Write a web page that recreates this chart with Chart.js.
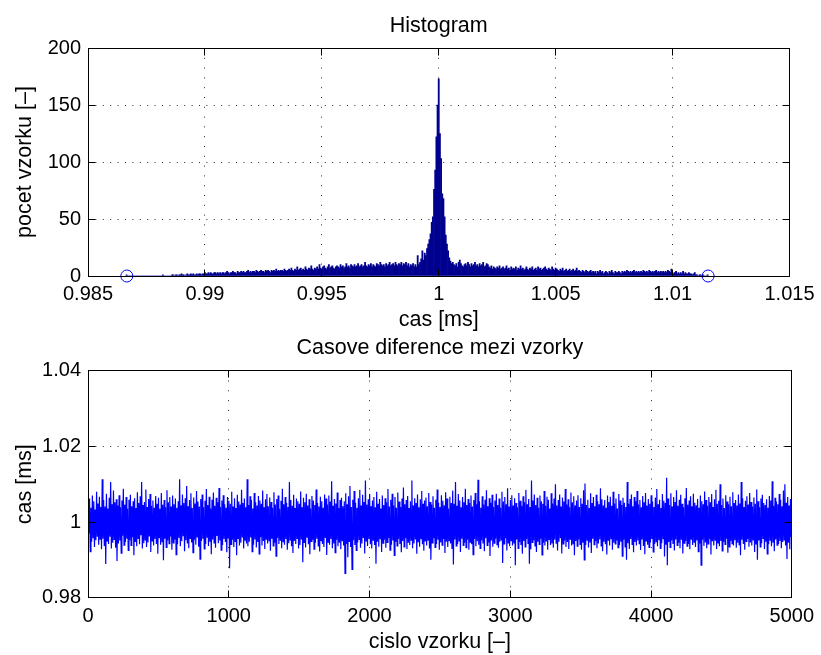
<!DOCTYPE html>
<html>
<head>
<meta charset="utf-8">
<script src="https://cdn.jsdelivr.net/npm/chart.js@4.4.1/dist/chart.umd.min.js"></script>
<style>
html, body { margin: 0; padding: 0; background: #ffffff; }
#wrap { position: relative; width: 821px; height: 655px; background: #ffffff; }
canvas { position: absolute; left: 0; }
#histCanvas { top: 0; }
#diffCanvas { top: 333px; }
</style>
</head>
<body>
<div id="wrap">
  <canvas id="histCanvas" width="821" height="333"></canvas>
  <canvas id="diffCanvas" width="821" height="322"></canvas>
</div>
<script>
// ---------------- DATA ----------------
// Histogram: bin centres start at histBinStart, spaced histBinWidth apart (ms)
const histBinStart = 0.98665;
const histBinWidth = 0.00005;
const histCounts = [
  1,0,0,0,0,0,0,0,0,0,0,0,0,0,0,0,0,0,0,0,
  0,0,0,0,0,0,0,0,0,0,0,1,0,0,0,0,0,0,0,1,
  1,0,1,1,0,1,1,2,1,1,0,1,2,1,1,2,1,2,1,1,
  2,1,2,2,1,2,2,3,2,2,3,2,3,2,2,3,3,2,3,2,
  3,2,3,3,2,3,4,3,2,3,3,4,3,3,2,4,3,3,4,3,
  4,3,3,4,5,3,4,3,4,4,3,5,4,3,4,5,4,4,3,5,
  4,5,4,3,5,4,5,4,6,4,5,4,5,5,4,6,5,4,5,6,
  5,7,5,4,6,5,8,5,6,7,5,6,5,8,6,5,7,6,9,6,
  5,7,6,8,6,10,7,6,8,9,7,6,8,10,7,8,9,7,6,8,
  9,8,7,10,8,9,7,8,11,8,9,7,10,9,8,10,8,9,11,8,
  9,10,8,9,12,9,8,10,9,11,8,10,9,8,11,10,9,12,10,9,
  10,8,11,9,10,12,9,10,11,9,12,10,9,11,10,12,9,11,10,12,
  9,11,8,10,9,11,8,10,8,18,10,12,15,22,14,20,18,24,28,32,
  37,47,52,76,93,122,150,173,125,103,72,68,52,36,28,22,16,13,11,12,
  10,9,11,8,12,14,11,9,8,10,11,9,12,10,8,11,9,10,12,9,
  10,8,11,9,10,12,8,9,11,10,8,7,9,6,8,7,6,8,7,9,
  6,7,8,6,7,9,6,7,5,8,6,7,6,8,5,7,6,9,6,7,
  5,6,8,6,5,7,6,8,5,6,7,5,8,6,7,5,6,7,8,6,
  5,7,6,5,8,6,5,7,6,5,4,6,5,7,4,5,6,4,5,6,
  4,5,6,4,5,7,4,5,4,3,5,4,3,5,4,3,4,5,3,4,
  3,4,2,4,3,5,3,4,2,3,4,3,2,4,3,5,3,2,4,3,
  3,4,3,2,4,3,4,3,5,4,3,4,3,4,5,3,4,3,4,3,
  4,3,5,4,3,4,3,5,4,3,4,3,4,5,3,4,3,4,3,4,
  3,4,3,5,4,3,6,3,2,3,4,2,3,2,3,2,4,2,3,2,
  2,3,2,2,1,2,3,1,1,0,1,1,0,1,0,0,0,1
];
// min and max of the samples, marked with circles at count 0
const histExtremes = [0.98666, 1.01152];
const histXTicks = [0.985, 0.99, 0.995, 1, 1.005, 1.01, 1.015];
const histXTickLabels = ['0.985', '0.99', '0.995', '1', '1.005', '1.01', '1.015'];
const histYTicks = [0, 50, 100, 150, 200];
const histYTickLabels = ['0', '50', '100', '150', '200'];

// Time differences: one reading every diffSampleStep samples,
// stored as offsets from diffBase in units of diffUnit (ms)
const diffFirstSample = 1;
const diffSampleStep = 5;
const diffBase = 1;
const diffUnit = 0.0001;
const diffOffsets = [
  45,-30,62,-78,38,-52,70,-41,55,-66,33,-48,80,-37,49,-60,67,-45,40,-72,
  113,-44,58,-63,41,-111,75,-50,36,-58,64,-39,106,-70,47,-55,83,-46,52,-68,
  60,-103,44,-57,71,-49,39,-82,57,-36,88,-61,46,-53,66,-44,35,-75,59,-48,
  72,-62,42,-40,55,-88,63,-51,37,-64,79,-43,50,-59,68,-35,106,-70,45,-56,
  53,-47,86,-66,40,-54,61,-38,74,-79,43,-50,57,-62,38,-45,69,-58,48,-84,
  64,-41,35,-60,77,-52,46,-101,58,-44,39,-67,84,-49,52,-57,66,-38,41,-73,
  70,-55,47,-46,62,-86,38,-59,55,-42,113,-64,44,-51,73,-36,50,-77,63,-48,
  95,-57,42,-69,58,-43,76,-54,37,-81,65,-47,49,-60,82,-39,54,-65,41,-98,
  61,-50,73,-44,39,-71,56,-58,87,-40,45,-63,67,-52,36,-85,59,-46,78,-55,
  43,-68,64,-37,52,-56,90,-49,40,-74,57,-61,71,-45,47,-53,38,-80,66,-42,
  56,-122,48,-59,80,-47,41,-66,63,-51,37,-88,72,-43,54,-62,46,-55,85,-39,
  50,-70,62,-48,39,-57,113,-64,45,-52,68,-41,58,-78,36,-60,77,-46,52,-67,
  44,-53,69,-84,57,-40,48,-62,83,-50,39,-71,60,-45,74,-57,42,-49,65,-76,
  53,-44,38,-63,79,-55,46,-90,61,-42,70,-58,35,-48,56,-69,88,-52,47,-60,
  66,-45,51,-73,40,-56,106,-47,58,-64,43,-82,72,-50,37,-58,62,-43,55,-70,
  48,-61,81,-46,39,-106,64,-54,52,-67,75,-40,44,-59,60,-85,36,-51,69,-47,
  57,-72,45,-55,86,-44,50,-63,41,-78,67,-49,55,-58,38,-66,73,-42,62,-87,
  46,-53,70,-60,54,-45,108,-69,43,-57,61,-81,49,-47,78,-64,37,-55,58,-72,
  64,-49,42,-62,55,-136,76,-58,47,-93,68,-51,95,-66,40,-125,59,-48,82,-61,
  51,-75,38,-54,63,-46,85,-68,44,-57,72,-42,53,-83,110,-50,46,-63,60,-45,
  74,-59,42,-70,57,-48,66,-61,39,-110,80,-52,48,-65,61,-44,36,-79,70,-56,
  45,-47,63,-68,52,-54,87,-42,41,-74,59,-60,75,-49,44,-88,66,-53,38,-63,
  78,-45,54,-58,40,-80,62,-50,91,-66,47,-43,58,-71,69,-55,37,-61,55,-48,
  110,-69,44,-57,63,-46,50,-84,73,-52,39,-65,60,-44,82,-59,48,-76,57,-50,
  65,-62,42,-48,77,-70,53,-100,46,-55,68,-43,38,-67,59,-58,86,-47,51,-73,
  40,-54,71,-61,56,-45,44,-82,79,-52,62,-66,36,-49,67,-57,50,-71,83,-112,
  48,-46,106,-63,43,-58,74,-50,57,-79,39,-44,66,-62,52,-55,88,-68,45,-47,
  61,-73,50,-53,70,-59,41,-86,58,-45,77,-64,47,-51,112,-60,55,-70,38,-48,
  68,-57,46,-77,59,-43,84,-62,42,-54,63,-90,51,-49,72,-65,40,-56,57,-44,
  75,-60,45,-68,62,-52,38,-47,80,-108,54,-58,66,-43,47,-75,89,-55,41,-64,
  58,-49,71,-62,44,-57,63,-114,50,-46,39,-70,77,-53,56,-61,43,-84,68,-50,
  52,-66,85,-45,47,-58,61,-110,40,-72,110,-54,57,-48,73,-63,45,-79,64,-52,
  38,-59,70,-44,55,-87,48,-55,82,-62,43,-50,67,-73,59,-46,36,-61,76,-57,
  49,-68,62,-47,100,-56,44,-75,58,-52,73,-43,41,-83,65,-58,54,-49,87,-66,
  46,-53,60,-71,39,-45,78,-62,52,-57,68,-88,44,-50,57,-64,71,-46,40,-59,
  63,-73,48,-55,84,-100,102,-61,45,-48,59,-67,37,-54,76,-82,50,-44,66,-60,
  42,-51,72,-69,55,-57,47,-46,89,-63,60,-77,44,-52,58,-59,38,-86,70,-48,
  53,-62,67,-44,43,-73,80,-55,49,-58,62,-49,36,-68,74,-61,57,-52,45,-90,
  64,-47,51,-66,40,-100,106,-56,48,-71,61,-45,73,-59,42,-80,66,-53,55,-62,
  82,-49,46,-57,58,-74,39,-46,69,-63,52,-85,77,-50,44,-60,61,-67,48,-54,
  71,-45,54,-79,40,-58,65,-52,87,-64,47,-48,59,-70,37,-56,74,-44,56,-91,
  50,-60,117,-114,62,-53,45,-67,76,-49,41,-58,66,-75,53,-46,84,-62,43,-55,
  59,-69,72,-47,48,-83,39,-56,63,-50,90,-64,46,-58,57,-72,68,-45,42,-61,
  75,-53,51,-66,44,-49,61,-78,38,-57,70,-114,55,-47,47,-63,81,-54,58,-69,
  43,-58,66,-45,52,-86,74,-51,40,-62,60,-48,85,-71,48,-55,56,-64,100,-50,
  45,-76,62,-53,37,-59,71,-44,54,-81,47,-66,67,-50,42,-57,79,-62,50,-48,
  58,-68,44,-55,73,-60,49,-88,106,-47,63,-58,40,-73,56,-51,68,-45,46,-65,
  77,-54,53,-62,41,-47,65,-79,48,-58,86,-100,55,-49,39,-66,62,-56,72,-43,
  50,-71,45,-52,60,-84,38,-59,69,-48,57,-64,108,-55,43,-77,64,-46,54,-61,
  47,-58,74,-50,59,-69,42,-53,83,-47,100,-62,51,-98,66,-55,44,-72,61,-40
];
const diffXTicks = [0, 1000, 2000, 3000, 4000, 5000];
const diffXTickLabels = ['0', '1000', '2000', '3000', '4000', '5000'];
const diffYTicks = [0.98, 1, 1.02, 1.04];
const diffYTickLabels = ['0.98', '1', '1.02', '1.04'];

// ---------------- STYLE / CHART SETUP ----------------
Chart.defaults.font.family = "'Liberation Sans', Arial, Helvetica, sans-serif";
Chart.defaults.font.size = 20;
Chart.defaults.color = '#000000';
Chart.defaults.animation = false;

const GRID_COLOR = 'rgba(0,0,0,0.85)';
const LABEL_FONT = 21.5;

function makeAxis(opts) {
  return {
    type: 'linear',
    min: opts.min,
    max: opts.max,
    offset: false,
    afterBuildTicks: (s) => { s.ticks = opts.ticks.map(v => ({ value: v })); },
    afterFit: (s) => {
      if (opts.horizontal) { s.height = opts.size; } else { s.width = opts.size; }
    },
    ticks: {
      autoSkip: false,
      maxRotation: 0,
      minRotation: 0,
      padding: opts.tickPadding,
      color: '#000000',
      font: { size: 20 },
      callback: (value, index) => opts.labels[index]
    },
    grid: { color: GRID_COLOR, lineWidth: 1, drawTicks: false, offset: false },
    border: { display: false, dash: opts.dash, dashOffset: 0 },
    title: {
      display: true,
      text: opts.title,
      color: '#000000',
      font: { size: LABEL_FONT },
      padding: opts.titlePadding
    }
  };
}

// MATLAB-like axes box with inward tick marks
const matlabBox = {
  id: 'matlabBox',
  afterDatasetsDraw(chart) {
    const { ctx, chartArea: a, scales } = chart;
    const xs = scales.x, ys = scales.y;
    const al = (p) => Math.round(p - 0.5) + 0.5;
    const L = al(a.left), R = al(a.right), T = al(a.top), B = al(a.bottom);
    const tl = 7;
    ctx.save();
    ctx.strokeStyle = '#000000';
    ctx.lineWidth = 1;
    ctx.beginPath();
    ctx.moveTo(L, T); ctx.lineTo(R, T); ctx.lineTo(R, B); ctx.lineTo(L, B); ctx.closePath();
    xs.ticks.forEach(t => {
      const px = al(xs.getPixelForValue(t.value));
      ctx.moveTo(px, B); ctx.lineTo(px, B - tl);
      ctx.moveTo(px, T); ctx.lineTo(px, T + tl);
    });
    ys.ticks.forEach(t => {
      const py = al(ys.getPixelForValue(t.value));
      ctx.moveTo(L, py); ctx.lineTo(L + tl, py);
      ctx.moveTo(R, py); ctx.lineTo(R - tl, py);
    });
    ctx.stroke();
    ctx.restore();
  }
};

// ---------------- TOP: HISTOGRAM ----------------
const histPoints = histCounts.map((c, i) => ({ x: histBinStart + i * histBinWidth, y: c }));
const extremePoints = histExtremes.map(v => ({ x: v, y: 0 }));

new Chart(document.getElementById('histCanvas'), {
  type: 'bar',
  data: {
    datasets: [
      {
        type: 'line',
        data: extremePoints,
        showLine: false,
        pointStyle: 'circle',
        pointRadius: 6,
        pointHoverRadius: 6,
        pointBorderColor: '#0000FF',
        pointBackgroundColor: 'rgba(0,0,0,0)',
        pointBorderWidth: 1,
        clip: false,
        order: 0
      },
      {
        type: 'bar',
        data: histPoints,
        backgroundColor: '#00008F',
        borderWidth: 0,
        barPercentage: 1,
        categoryPercentage: 1,
        grouped: false,
        order: 1
      }
    ]
  },
  options: {
    responsive: false,
    animation: false,
    layout: { padding: { left: 0, right: 29, top: 0, bottom: 0 } },
    plugins: {
      legend: { display: false },
      tooltip: { enabled: false },
      title: {
        display: true,
        fullSize: false,
        text: 'Histogram',
        color: '#000000',
        font: { size: LABEL_FONT, weight: 'normal' },
        padding: { top: 13, bottom: 9.2 }
      }
    },
    scales: {
      x: makeAxis({ min: 0.985, max: 1.015, ticks: histXTicks, labels: histXTickLabels,
        horizontal: true, size: 57, tickPadding: 6.5, dash: [1, 8.8],
        title: 'cas [ms]', titlePadding: { top: 0, bottom: 0 } }),
      y: makeAxis({ min: 0, max: 200, ticks: histYTicks, labels: histYTickLabels,
        horizontal: false, size: 88, tickPadding: 7, dash: [1, 6.4],
        title: 'pocet vzorku [–]', titlePadding: { top: 12.6, bottom: 0 } })
    }
  },
  plugins: [matlabBox]
});

// ---------------- BOTTOM: TIME DIFFERENCES ----------------
const diffPoints = diffOffsets.map((d, i) => ({ x: diffFirstSample + i * diffSampleStep, y: diffBase + d * diffUnit }));

new Chart(document.getElementById('diffCanvas'), {
  type: 'line',
  data: {
    datasets: [
      {
        data: diffPoints,
        borderColor: '#0000FF',
        borderWidth: 1.2,
        pointRadius: 0,
        pointHoverRadius: 0,
        tension: 0,
        fill: false
      }
    ]
  },
  options: {
    responsive: false,
    animation: false,
    layout: { padding: { left: 0, right: 29, top: 0, bottom: 0 } },
    plugins: {
      legend: { display: false },
      tooltip: { enabled: false },
      title: {
        display: true,
        fullSize: false,
        text: 'Casove diference mezi vzorky',
        color: '#000000',
        font: { size: LABEL_FONT, weight: 'normal' },
        padding: { top: 2.2, bottom: 9.7 }
      }
    },
    scales: {
      x: makeAxis({ min: 0, max: 5000, ticks: diffXTicks, labels: diffXTickLabels,
        horizontal: true, size: 57.3, tickPadding: 7, dash: [1, 8.8],
        title: 'cislo vzorku [–]', titlePadding: { top: 0, bottom: 0 } }),
      y: makeAxis({ min: 0.98, max: 1.04, ticks: diffYTicks, labels: diffYTickLabels,
        horizontal: false, size: 88, tickPadding: 7, dash: [1, 6.4],
        title: 'cas [ms]', titlePadding: { top: 12.6, bottom: 0 } })
    }
  },
  plugins: [matlabBox]
});
</script>
</body>
</html>
